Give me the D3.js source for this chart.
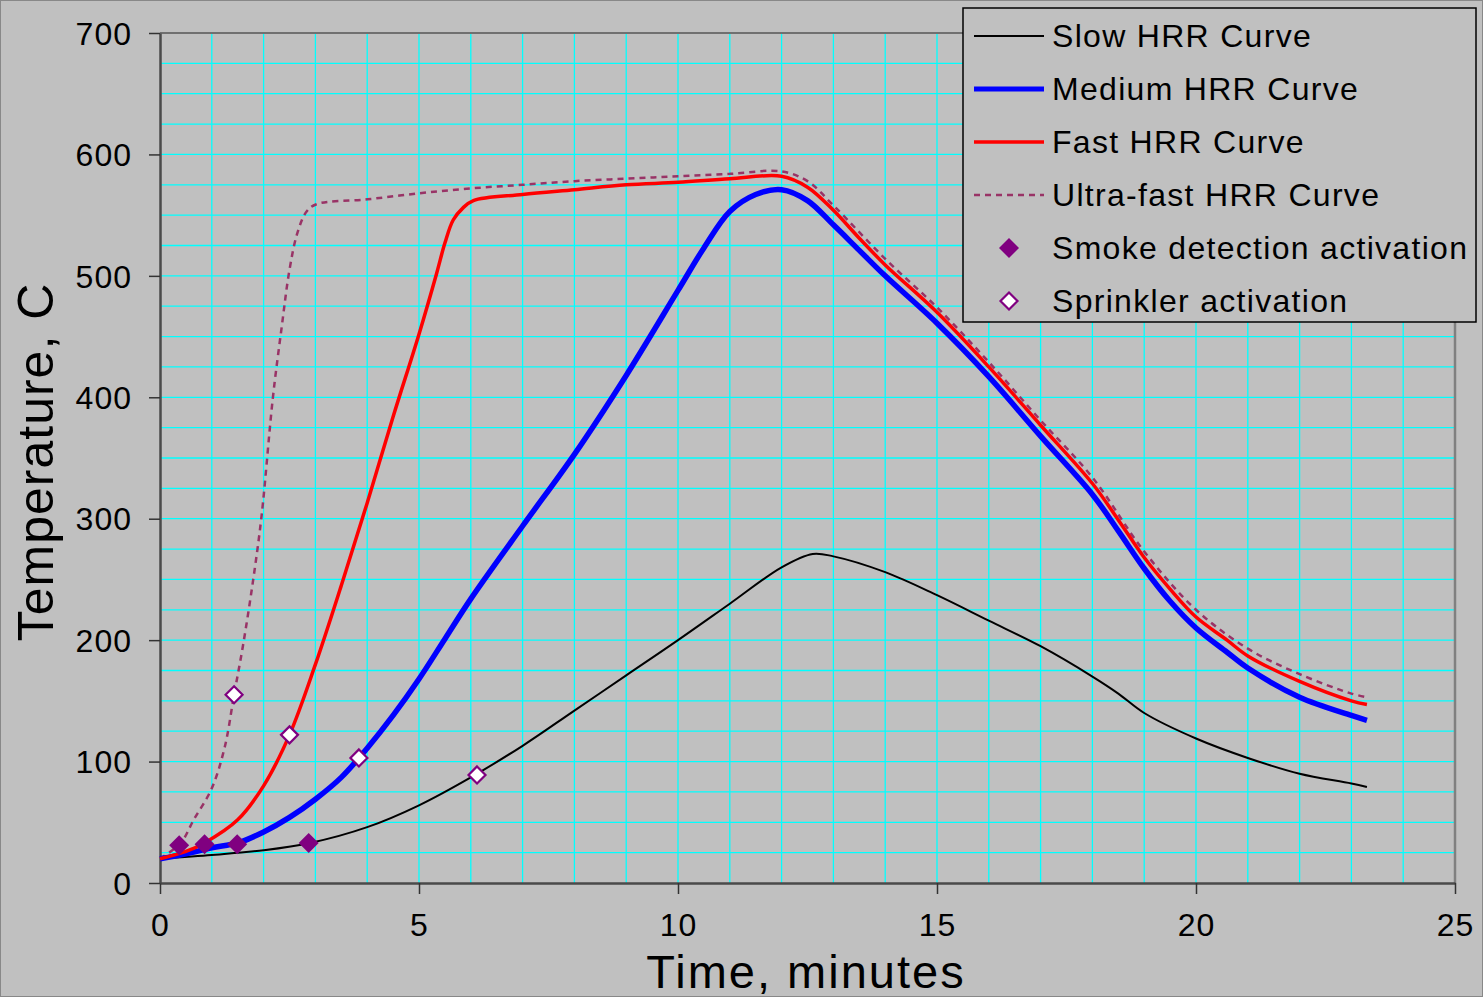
<!DOCTYPE html>
<html>
<head>
<meta charset="utf-8">
<script src="https://cdn.jsdelivr.net/npm/d3@7"></script>
<style>
  body { margin: 0; background: #c0c0c0; }
  svg { display: block; font-family: "Liberation Sans", Arial, sans-serif; }
</style>
</head>
<body>
<svg id="chart" width="1483" height="997"></svg>
<script>
// data: [minutes, temperature C]
var slowCurve = [[0,20],[1,23],[1.5,25],[2,27],[2.9,33],[4,46],[5,64],[6,87],[7,113],[8,142],[9,171],[10,200],[11,230],[12,260],[12.6,271],[13,269],[14,256],[15,237],[16,216],[17,195],[18,170],[18.5,156],[19,140],[20,119],[21,103],[22,90],[23,82],[23.3,79]];
var mediumCurve = [[0,20],[0.5,24],[1,29],[1.5,33],[2,42],[2.5,54],[3,69],[3.5,87],[4,111],[4.5,138],[5,168],[5.5,201],[6,234],[7,294],[8,353],[9,418],[10,488],[10.5,523],[11,553],[11.5,567],[12,571],[12.5,562],[13,542],[13.5,521],[14,500],[15,461],[16,417],[17,368],[18,320],[18.5,290],[19,259],[19.5,232],[20,210],[20.6,190],[21,177],[22,153],[23,138],[23.3,134]];
var fastCurve = [[0,20],[0.5,26],[0.86,33],[1.5,52],[2,80],[2.5,122],[3,180],[3.5,245],[4,313],[4.5,384],[5,452],[5.34,502],[5.5,527],[5.66,546],[5.85,556],[6.05,562],[7,567],[8,571],[9,575],[10,577],[11,580],[12,582],[12.5,573],[13,554],[13.5,531],[14,509],[15,470],[16,425],[17,377],[18,329],[18.5,299],[19,268],[19.5,242],[20,219],[20.6,200],[21,187],[22,166],[23,150],[23.3,147]];
var ultraCurve = [[0,20],[0.4,33],[0.65,52],[1,78],[1.25,112],[1.43,155],[1.6,195],[1.8,250],[1.96,302],[2.18,400],[2.35,458],[2.5,505],[2.65,535],[2.83,553],[3.02,559],[4,563],[5,568],[6,572],[7,575],[8,578],[9,580],[10,582],[11,584],[12,586],[12.5,578],[13,558],[14,514],[15,474],[16,429],[17,381],[18,334],[19,273],[20,225],[21,193],[22,172],[23,156],[23.3,153]];
var smokePoints = [[0.37,31],[0.86,32],[1.49,32],[2.87,33]];
var sprinklerPoints = [[1.43,155],[2.5,122],[3.84,103],[6.12,89]];
var xTicks = [0,5,10,15,20,25];
var yTicks = [0,100,200,300,400,500,600,700];
var legendNames = ["Slow HRR Curve","Medium HRR Curve","Fast HRR Curve","Ultra-fast HRR Curve","Smoke detection activation","Sprinkler activation"];

var svg = d3.select("#chart");
var margin = {top: 33, right: 28, bottom: 114, left: 160};
var width = 1483 - margin.left - margin.right;
var height = 997 - margin.top - margin.bottom;

svg.append("rect").attr("x",0.5).attr("y",0.5).attr("width",1482).attr("height",996)
  .attr("fill","#c0c0c0").attr("stroke","#888").attr("stroke-width",1);

var g = svg.append("g").attr("transform", "translate(" + margin.left + "," + margin.top + ")");

var x = d3.scaleLinear().domain([0,25]).range([0,width]);
var y = d3.scaleLinear().domain([0,700]).range([height,0]);

// grid, every minute / every 25 C
g.selectAll(".vgrid").data(d3.range(1,25)).enter().append("line")
  .attr("x1", d => x(d)).attr("x2", d => x(d)).attr("y1",0).attr("y2",height)
  .attr("stroke","#00ffff").attr("stroke-width",1.3);
g.selectAll(".hgrid").data(d3.range(25,700,25)).enter().append("line")
  .attr("y1", d => y(d)).attr("y2", d => y(d)).attr("x1",0).attr("x2",width)
  .attr("stroke","#00ffff").attr("stroke-width",1.3);

// frame top/right
g.append("line").attr("x1",0).attr("x2",width).attr("y1",0).attr("y2",0).attr("stroke","#707070").attr("stroke-width",2);
g.append("line").attr("x1",width).attr("x2",width).attr("y1",0).attr("y2",height).attr("stroke","#808080").attr("stroke-width",2.5);

// axes
var xAxis = d3.axisBottom(x).tickValues(xTicks).tickSize(11).tickPadding(19).tickSizeOuter(0);
var yAxis = d3.axisLeft(y).tickValues(yTicks).tickSize(11).tickPadding(17).tickSizeOuter(0);
var xg = g.append("g").attr("transform","translate(0," + height + ")").call(xAxis);
var yg = g.append("g").call(yAxis);
[xg, yg].forEach(function(a) {
  a.select(".domain").attr("stroke","#4a4a4a").attr("stroke-width",2.5);
  a.selectAll(".tick line").attr("stroke","#333").attr("stroke-width",1.5);
  a.selectAll("text").attr("fill","#000").style("font-size","32px").style("letter-spacing","1px")
    .style("font-family","Liberation Sans, Arial, sans-serif");
});
yg.selectAll("text").attr("dy","0.35em");

// axis titles
svg.append("text").attr("x",806).attr("y",988).attr("text-anchor","middle")
  .style("font-size","47px").style("letter-spacing","2px").text("Time, minutes");
svg.append("text").attr("transform","translate(53,462) rotate(-90)").attr("text-anchor","middle")
  .style("font-size","50px").style("letter-spacing","1px").text("Temperature, C");

var line = d3.line().x(d => x(d[0])).y(d => y(d[1])).curve(d3.curveCatmullRom.alpha(0.5));

g.append("path").datum(ultraCurve).attr("d",line).attr("fill","none")
  .attr("stroke","#993366").attr("stroke-width",2.5).attr("stroke-dasharray","6,5");
g.append("path").datum(slowCurve).attr("d",line).attr("fill","none")
  .attr("stroke","#000").attr("stroke-width",2);
g.append("path").datum(mediumCurve).attr("d",line).attr("fill","none")
  .attr("stroke","#0000ff").attr("stroke-width",5.5);
g.append("path").datum(fastCurve).attr("d",line).attr("fill","none")
  .attr("stroke","#ff0000").attr("stroke-width",3.5);

function diamond(r) {
  return "M0," + (-r) + "L" + r + ",0L0," + r + "L" + (-r) + ",0Z";
}
g.selectAll(".smoke").data(smokePoints).enter().append("path")
  .attr("d", diamond(10))
  .attr("transform", d => "translate(" + x(d[0]) + "," + y(d[1]) + ")")
  .attr("fill","#800080");
g.selectAll(".sprk").data(sprinklerPoints).enter().append("path")
  .attr("d", diamond(8.5))
  .attr("transform", d => "translate(" + x(d[0]) + "," + y(d[1]) + ")")
  .attr("fill","#fff").attr("stroke","#800080").attr("stroke-width",2.2);

// legend
var lg = svg.append("g").attr("transform","translate(963,8)");
lg.append("rect").attr("width",513).attr("height",314).attr("fill","#c0c0c0")
  .attr("stroke","#000").attr("stroke-width",1.5);
var rowY = d => 28 + d * 53;
var styles = [
  {c:"#000", w:2, dash:null},
  {c:"#0000ff", w:5, dash:null},
  {c:"#ff0000", w:3.5, dash:null},
  {c:"#993366", w:2.5, dash:"6,5"}
];
styles.forEach(function(s, i) {
  lg.append("line").attr("x1",11).attr("x2",81).attr("y1",rowY(i)).attr("y2",rowY(i))
    .attr("stroke",s.c).attr("stroke-width",s.w).attr("stroke-dasharray",s.dash);
});
lg.append("path").attr("d", diamond(10)).attr("transform","translate(46," + rowY(4) + ")").attr("fill","#800080");
lg.append("path").attr("d", diamond(8.5)).attr("transform","translate(46," + rowY(5) + ")")
  .attr("fill","#fff").attr("stroke","#800080").attr("stroke-width",2.2);
lg.selectAll(".lt").data(legendNames).enter().append("text")
  .attr("x",89).attr("y",(d,i) => rowY(i)).attr("dy","0.35em")
  .style("font-size","32px").style("letter-spacing","1.3px").text(d => d);
</script>
</body>
</html>
